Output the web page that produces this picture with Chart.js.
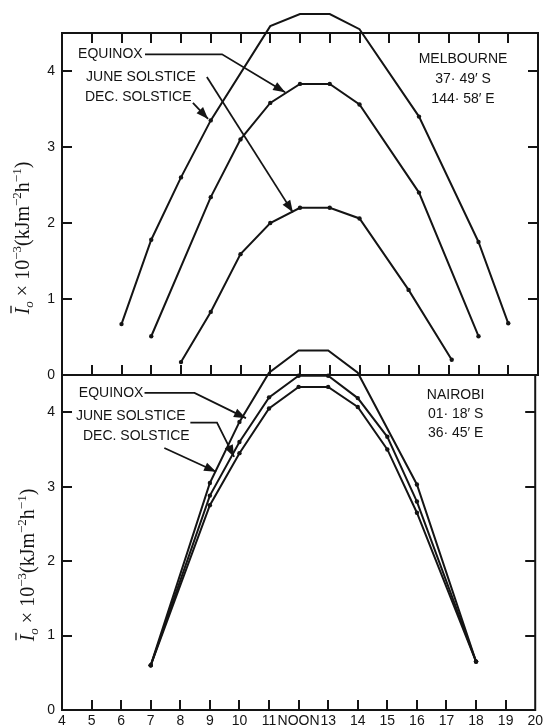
<!DOCTYPE html>
<html><head><meta charset="utf-8">
<script src="https://cdn.jsdelivr.net/npm/chart.js@4/dist/chart.umd.min.js"></script>
<style>
html,body{margin:0;padding:0;background:#fff;}
#wrap{position:relative;width:546px;height:727px;overflow:hidden;}
canvas{position:absolute;left:0;}
#c1{top:0;}
#c2{top:340px;}
</style></head><body>
<div id="wrap">
<canvas id="c1" width="546" height="400"></canvas>
<canvas id="c2" width="546" height="387"></canvas>
</div>
<script>
// ---- data ----
const hourTicks = [4,5,6,7,8,9,10,11,12,13,14,15,16,17,18,19,20];
const hourLabels = ['4','5','6','7','8','9','10','11','NOON','13','14','15','16','17','18','19','20'];
const yTicks = [0,1,2,3,4];

// Melbourne
const melDecHours = [6,7,8,9,11,12,13,14,16,18,19];
const melDecValues = [0.67,1.78,2.60,3.35,4.59,4.75,4.75,4.55,3.40,1.75,0.68];
const melEqHours = [7,9,10,11,12,13,14,16,18];
const melEqValues = [0.51,2.34,3.10,3.58,3.83,3.83,3.56,2.40,0.51];
const melJunHours = [8,9,10,11,12,13,14,15.65,17.1];
const melJunValues = [0.17,0.83,1.59,2.00,2.20,2.20,2.06,1.12,0.20];

// Nairobi
const naiEqHours = [7,9,10,11,12,13,14,16,18];
const naiEqValues = [0.60,3.05,3.87,4.53,4.83,4.83,4.53,3.03,0.65];
const naiDecHours = [7,9,10,11,12,13,14,15,16,18];
const naiDecValues = [0.60,2.88,3.60,4.20,4.49,4.49,4.19,3.67,2.80,0.65];
const naiJunHours = [7,9,10,11,12,13,14,15,16,18];
const naiJunValues = [0.60,2.75,3.45,4.05,4.34,4.34,4.07,3.50,2.65,0.65];

// ---- annotations (data coordinates) ----
const melNotes = {
  texts: [
    {t:'EQUINOX', x:4.54, y:4.22, align:'left'},
    {t:'JUNE SOLSTICE', x:4.81, y:3.92, align:'left'},
    {t:'DEC. SOLSTICE', x:4.77, y:3.66, align:'left'},
    {t:'MELBOURNE', x:17.48, y:4.16, align:'center'},
    {t:'37\u00B7 49\u2032 S', x:17.48, y:3.89, align:'center'},
    {t:'144\u00B7 58\u2032 E', x:17.48, y:3.63, align:'center'}
  ],
  arrows: [
    [[6.79,4.22],[9.38,4.22],[11.5,3.72]],
    [[8.87,3.92],[11.76,2.14]],
    [[8.40,3.58],[8.91,3.37]]
  ]
};
const naiNotes = {
  texts: [
    {t:'EQUINOX', x:4.57, y:4.26, align:'left'},
    {t:'JUNE SOLSTICE', x:4.47, y:3.95, align:'left'},
    {t:'DEC. SOLSTICE', x:4.71, y:3.68, align:'left'},
    {t:'NAIROBI', x:17.31, y:4.23, align:'center'},
    {t:'01\u00B7 18\u2032 S', x:17.31, y:3.97, align:'center'},
    {t:'36\u00B7 45\u2032 E', x:17.31, y:3.72, align:'center'}
  ],
  arrows: [
    [[6.79,4.26],[8.48,4.26],[10.22,3.92]],
    [[8.34,3.86],[9.24,3.86],[9.82,3.40]],
    [[7.46,3.52],[9.21,3.20]]
  ]
};

const INK = '#141414';
function pts(hs, vs){ return hs.map((h,i)=>({x:h, y:vs[i]})); }
function ds(label, hs, vs){
  return {label, data:pts(hs,vs), borderColor:INK, backgroundColor:INK, borderWidth:2,
    pointRadius:2.2, pointHoverRadius:2.2, pointBorderWidth:0, tension:0, clip:false, fill:false};
}

function drawArrow(ctx, path){
  ctx.beginPath();
  ctx.moveTo(path[0][0], path[0][1]);
  for (let i=1;i<path.length;i++) ctx.lineTo(path[i][0], path[i][1]);
  ctx.stroke();
  const [x1,y1] = path[path.length-2], [x2,y2] = path[path.length-1];
  const ang = Math.atan2(y2-y1, x2-x1), L=12, W=4.5;
  ctx.beginPath();
  ctx.moveTo(x2,y2);
  ctx.lineTo(x2 - L*Math.cos(ang) + W*Math.sin(ang), y2 - L*Math.sin(ang) - W*Math.cos(ang));
  ctx.lineTo(x2 - L*Math.cos(ang) - W*Math.sin(ang), y2 - L*Math.sin(ang) + W*Math.cos(ang));
  ctx.closePath(); ctx.fill();
}

function drawYTitle(ctx, cx, cy){
  const fam = '"Liberation Serif", "Times New Roman", serif';
  const big = '20px ' + fam, bigI = 'italic 20px ' + fam;
  const small = '13px ' + fam, smallI = 'italic 13px ' + fam;
  const parts = [
    {t:'I', f:bigI, dy:0, bar:true},
    {t:'o', f:smallI, dy:4},
    {t:' \u00D7 10', f:big, dy:0},
    {t:'\u22123', f:small, dy:-8},
    {t:'(kJm', f:big, dy:0},
    {t:'\u22122', f:small, dy:-8},
    {t:'h', f:big, dy:0},
    {t:'\u22121', f:small, dy:-8},
    {t:')', f:big, dy:0}
  ];
  ctx.save();
  ctx.translate(cx, cy); ctx.rotate(-Math.PI/2);
  let total = 0;
  parts.forEach(p=>{ ctx.font=p.f; p.w = ctx.measureText(p.t).width; total += p.w; });
  let x = -total/2;
  ctx.fillStyle = INK; ctx.strokeStyle = INK; ctx.textBaseline='alphabetic'; ctx.textAlign='left';
  parts.forEach(p=>{
    ctx.font = p.f; ctx.fillText(p.t, x, 7 + p.dy);
    if (p.bar){ ctx.lineWidth=1.3; ctx.beginPath(); ctx.moveTo(x+1, -11); ctx.lineTo(x+p.w+2, -11); ctx.stroke(); }
    x += p.w;
  });
  ctx.restore();
}

const framePlugin = {
  id:'frame',
  afterDatasetsDraw(chart){
    const o = chart.options.plugins.frame;
    const {ctx, chartArea:a} = chart;
    const xs = chart.scales.x, ys = chart.scales.y;
    ctx.save();
    ctx.strokeStyle = INK; ctx.fillStyle = INK; ctx.lineWidth = 2; ctx.lineCap='butt';
    ctx.strokeRect(a.left, a.top, a.right-a.left, a.bottom-a.top);
    const T = 10;
    ctx.beginPath();
    xs.ticks.forEach(t=>{
      if (t.value<=xs.min || t.value>=xs.max) return;
      const px = Math.round(xs.getPixelForValue(t.value));
      if (o.xBottom){ ctx.moveTo(px, a.bottom); ctx.lineTo(px, a.bottom-T); }
      if (o.xTop){ ctx.moveTo(px, a.top); ctx.lineTo(px, a.top+T); }
    });
    ys.ticks.forEach(t=>{
      if (t.value<=ys.min || t.value>=ys.max) return;
      const py = Math.round(ys.getPixelForValue(t.value));
      ctx.moveTo(a.left, py); ctx.lineTo(a.left+T, py);
      ctx.moveTo(a.right, py); ctx.lineTo(a.right-T, py);
    });
    ctx.stroke();
    // annotations
    const n = o.notes;
    ctx.font = '14px "Liberation Sans", Arial, sans-serif';
    ctx.textBaseline = 'middle';
    n.texts.forEach(tx=>{
      ctx.textAlign = tx.align;
      ctx.fillText(tx.t, xs.getPixelForValue(tx.x), ys.getPixelForValue(tx.y));
    });
    ctx.lineWidth = 1.8;
    n.arrows.forEach(p=> drawArrow(ctx, p.map(q=>[xs.getPixelForValue(q[0]), ys.getPixelForValue(q[1])])));
    ctx.restore();
    drawYTitle(ctx, o.titleX, o.titleY);
  }
};

function makeChart(id, datasets, opts){
  return new Chart(document.getElementById(id), {
    type:'line',
    data:{datasets},
    options:{
      responsive:false, animation:false, events:[],
      layout:{padding:{top:opts.padTop, right:8, left:0, bottom:0}},
      plugins:{legend:{display:false}, tooltip:{enabled:false},
        frame:{xTop:opts.xTop, xBottom:true, notes:opts.notes, titleX:opts.titleX, titleY:opts.titleY}},
      scales:{
        x:{type:'linear', min:4, max:20,
          afterBuildTicks:s=>{ s.ticks = hourTicks.map(v=>({value:v})); },
          afterFit:s=>{ s.height = opts.xHeight; },
          grid:{display:true, drawOnChartArea:false, drawTicks:false},
          border:{display:false},
          ticks:{display:opts.xLabels, autoSkip:false, maxRotation:0, minRotation:0, padding:3, color:INK,
            font:{family:'"Liberation Sans", Arial, sans-serif', size:14},
            callback:(v)=>{ const i = hourTicks.indexOf(v); return i<0 ? '' : hourLabels[i]; }}
        },
        y:{type:'linear', min:0, max:4.5,
          afterBuildTicks:s=>{ s.ticks = yTicks.map(v=>({value:v})); },
          afterFit:s=>{ s.width = 62; },
          grid:{display:true, drawOnChartArea:false, drawTicks:false},
          border:{display:false},
          ticks:{padding:7, color:INK, font:{family:'"Liberation Sans", Arial, sans-serif', size:14}}
        }
      }
    },
    plugins:[framePlugin]
  });
}

makeChart('c1', [
  ds('Dec. solstice', melDecHours, melDecValues),
  ds('Equinox', melEqHours, melEqValues),
  ds('June solstice', melJunHours, melJunValues)
], {padTop:33, xHeight:25, xLabels:false, xTop:true, notes:melNotes, titleX:22, titleY:238});

makeChart('c2', [
  ds('Equinox', naiEqHours, naiEqValues),
  ds('Dec. solstice', naiDecHours, naiDecValues),
  ds('June solstice', naiJunHours, naiJunValues)
], {padTop:35, xHeight:17, xLabels:true, xTop:false, notes:naiNotes, titleX:27, titleY:225});
</script>
</body></html>
